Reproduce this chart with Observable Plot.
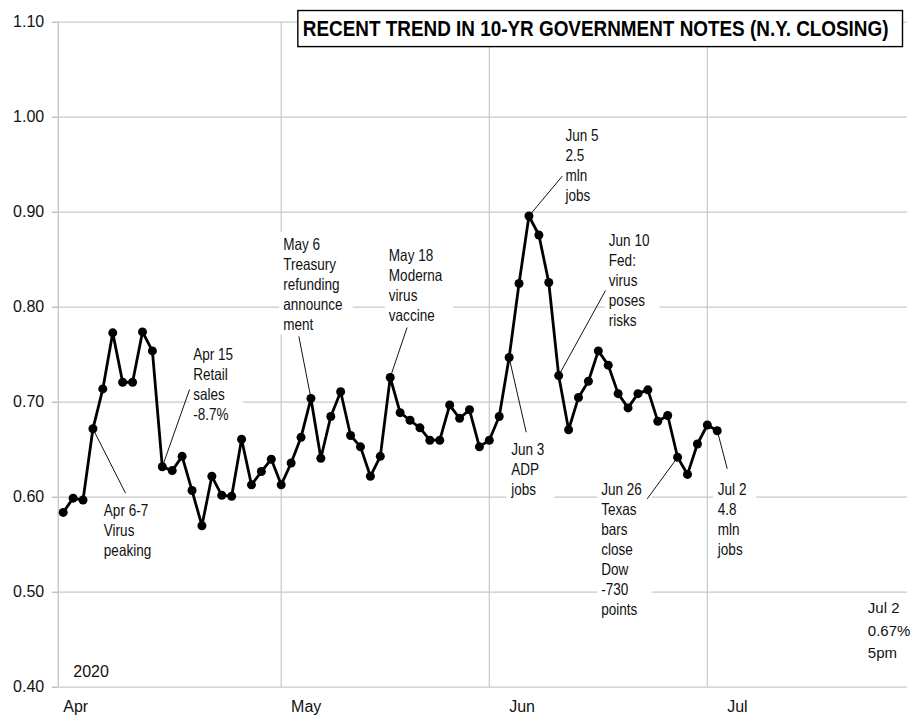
<!DOCTYPE html>
<html>
<head>
<meta charset="utf-8">
<script src="https://cdn.jsdelivr.net/npm/d3@7"></script>
<script src="https://cdn.jsdelivr.net/npm/@observablehq/plot@0.6"></script>
<style>
  html, body { margin: 0; padding: 0; background: #fff; }
  #chart { width: 919px; height: 715px; }
</style>
</head>
<body>
<div id="chart"></div>
<script>
// ---------- data ----------
const days = [
  "Apr 1","Apr 2","Apr 3","Apr 6","Apr 7","Apr 8","Apr 9","Apr 10","Apr 13","Apr 14","Apr 15",
  "Apr 16","Apr 17","Apr 20","Apr 21","Apr 22","Apr 23","Apr 24","Apr 27","Apr 28","Apr 29","Apr 30",
  "May 1","May 4","May 5","May 6","May 7","May 8","May 11","May 12","May 13","May 14","May 15",
  "May 18","May 19","May 20","May 21","May 22","May 25","May 26","May 27","May 28","May 29",
  "Jun 1","Jun 2","Jun 3","Jun 4","Jun 5","Jun 8","Jun 9","Jun 10","Jun 11","Jun 12","Jun 15",
  "Jun 16","Jun 17","Jun 18","Jun 19","Jun 22","Jun 23","Jun 24","Jun 25","Jun 26","Jun 29","Jun 30",
  "Jul 1","Jul 2"
];
const yields = [
  0.584, 0.599, 0.597, 0.672, 0.714, 0.773, 0.721, 0.721, 0.774, 0.754, 0.632,
  0.628, 0.643, 0.607, 0.570, 0.622, 0.602, 0.601, 0.661, 0.613, 0.627, 0.640,
  0.613, 0.636, 0.663, 0.704, 0.641, 0.685, 0.711, 0.665, 0.653, 0.622, 0.643,
  0.726, 0.689, 0.681, 0.673, 0.660, 0.660, 0.697, 0.683, 0.692, 0.653,
  0.660, 0.685, 0.747, 0.825, 0.896, 0.876, 0.826, 0.728, 0.671, 0.705, 0.722,
  0.754, 0.739, 0.709, 0.694, 0.709, 0.713, 0.680, 0.686, 0.642, 0.624, 0.656,
  0.676, 0.670
];
const months = ["Apr", "May", "Jun", "Jul"];
const monthStarts = ["Apr 1", "May 1", "Jun 1", "Jul 1"];
const monthLabelAt = [0, 23, 45, 67];           // trading-day slot where each month label starts
const yTicks = [0.40, 0.50, 0.60, 0.70, 0.80, 0.90, 1.00, 1.10];
const xDomain = [-0.5, 85.2];                    // trading-day slots shown
const yDomain = [0.40, 1.10];

const titleText = "RECENT TREND IN 10-YR GOVERNMENT NOTES (N.Y. CLOSING)";
const yearText = "2020";
const closeText = "Jul 2\n0.67%\n5pm";

const noteDays = ["Apr 6", "Apr 15", "May 6", "May 18", "Jun 5", "Jun 3", "Jun 10", "Jun 26", "Jul 2"];
const noteTexts = [
  "Apr 6-7\nVirus\npeaking",
  "Apr 15\nRetail\nsales\n-8.7%",
  "May 6\nTreasury\nrefunding\nannounce\nment",
  "May 18\nModerna\nvirus\nvaccine",
  "Jun 5\n2.5\nmln\njobs",
  "Jun 3\nADP\njobs",
  "Jun 10\nFed:\nvirus\nposes\nrisks",
  "Jun 26\nTexas\nbars\nclose\nDow\n-730\npoints",
  "Jul 2\n4.8\nmln\njobs"
];
// label anchor (slot, yield) and leader-line end (slot, yield), in data units
const noteTextAt = [[4.10, 0.5947], [13.12, 0.7597], [22.20, 0.8755], [32.86, 0.8632], [50.69, 0.9895],
                    [45.21, 0.6597], [55.06, 0.8789], [54.29, 0.6176], [66.06, 0.6176]];
const noteLeaderEnd = [[6.29, 0.6042], [12.75, 0.7134], [23.78, 0.7692], [34.70, 0.7786], [50.36, 0.9379],
                       [46.72, 0.6684], [54.73, 0.8176], [58.94, 0.5983], [67.01, 0.6299]];

// ---------- tables ----------
const series = days.map((d, i) => ({i, day: d, v: yields[i]}));
const monthTable = months.map((m, k) => ({m, start: days.indexOf(monthStarts[k]), labelAt: monthLabelAt[k]}));
const notes = noteDays.map((d, k) => {
  const i = days.indexOf(d);
  return {text: noteTexts[k], px: i, pv: yields[i],
          tx: noteTextAt[k][0], ty: noteTextAt[k][1],
          ex: noteLeaderEnd[k][0], ey: noteLeaderEnd[k][1]};
});

// ---------- fonts ----------
function textWidth(font) {
  const ctx = document.createElement("canvas").getContext("2d");
  ctx.font = font;
  return ctx.measureText("RECENT TREND abcdefghij 0123456789").width;
}
const hasNarrow = textWidth(`40px "Liberation Sans Narrow", monospace`) < 0.9 * textWidth(`40px "Liberation Sans", monospace`);
const narrowFamily = hasNarrow ? "'Liberation Sans Narrow', sans-serif" : "'Liberation Sans', Arial, sans-serif";
const regularFamily = "'Liberation Sans', Arial, sans-serif";

const gridColor = "#c8c8c8";

const chart = Plot.plot({
  width: 919,
  height: 715,
  marginLeft: 57.75,
  marginRight: 12,
  marginTop: 21.7,
  marginBottom: 28.3,
  style: {fontFamily: regularFamily, fontSize: "16px", color: "#111", background: "#fff"},
  x: {type: "linear", domain: xDomain, axis: null},
  y: {domain: yDomain, axis: null},
  marks: [
    Plot.ruleY(yTicks, {stroke: gridColor, strokeWidth: 1.2}),
    Plot.ruleX(monthTable.filter(d => d.start > 0), {x: "start", stroke: gridColor, strokeWidth: 1.2}),
    Plot.ruleX([xDomain[0]], {stroke: gridColor, strokeWidth: 1.4}),
    Plot.axisY({ticks: yTicks, tickFormat: d => d.toFixed(2), tickSize: 6, tickPadding: 8,
                fontSize: 16, stroke: "#a8a8a8", fill: "#111", label: null}),
    // text mark #0: month labels
    Plot.text(monthTable, {x: "labelAt", y: () => yDomain[0], text: "m", textAnchor: "start",
                           lineAnchor: "top", dy: 13.3, fontSize: 16, fill: "#111"}),
    // text mark #1: year
    Plot.text([yearText], {frameAnchor: "bottom-left", dx: 15, dy: -22, textAnchor: "start",
                           lineAnchor: "top", fontSize: 16, fill: "#111"}),
    // text mark #2: closing note
    Plot.text([closeText], {frameAnchor: "bottom-right", dx: -39.7, dy: -90, textAnchor: "start",
                            lineAnchor: "top", fontSize: 15, lineHeight: 1.5, fill: "#111"}),
    // text mark #3: annotations
    Plot.text(notes, {x: "tx", y: "ty", text: "text", textAnchor: "start", lineAnchor: "top",
                      fontSize: 16.5, lineHeight: 20 / 16.5, fontFamily: narrowFamily, fill: "#111"}),
    Plot.link(notes, {x1: "px", y1: "pv", x2: "ex", y2: "ey", stroke: "#111", strokeWidth: 1}),
    Plot.line(series, {x: "i", y: "v", stroke: "#000", strokeWidth: 2.8, strokeLinejoin: "round"}),
    Plot.dot(series, {x: "i", y: "v", r: 4.5, fill: "#000", stroke: "none"}),
    // text mark #4: title
    Plot.text([titleText], {frameAnchor: "top-right", dx: -19, dy: -2.7, textAnchor: "end",
                            lineAnchor: "top", fontSize: hasNarrow ? 23 : 18.9, fontWeight: "bold",
                            fontFamily: narrowFamily, fill: "#000"})
  ]
});

document.getElementById("chart").append(chart);

// ---------- post-processing: narrow fallback & text boxes ----------
const NS = "http://www.w3.org/2000/svg";
const textGroups = Array.from(chart.querySelectorAll(":scope > g")).filter(g => g.querySelector(":scope > text") && g.getAttribute("aria-label") === "text");
const [gMonths, gYear, gClose, gNotes, gTitle] = textGroups;

function compress(textEl, f) {
  const parts = textEl.querySelectorAll("tspan");
  const items = parts.length ? Array.from(parts) : [textEl];
  for (const t of items) {
    const w = t.getComputedTextLength();
    t.setAttribute("textLength", (w * f).toFixed(2));
    t.setAttribute("lengthAdjust", "spacingAndGlyphs");
  }
}
if (!hasNarrow) {
  if (gNotes) gNotes.querySelectorAll("text").forEach(t => compress(t, 0.82));
  // title: regular bold at a width-matched size, stretched vertically to the narrow face's height
  if (gTitle) gTitle.querySelectorAll("text").forEach(t => {
    const tr = t.getAttribute("transform") || "";
    t.setAttribute("transform", tr + " scale(1,1.21)");
  });
}
function boxesBehind(g, pad, attrs) {
  if (!g) return;
  const sr = chart.getBoundingClientRect();
  const bg = document.createElementNS(NS, "g");
  for (const t of g.querySelectorAll("text")) {
    const r = t.getBoundingClientRect();
    const rect = document.createElementNS(NS, "rect");
    rect.setAttribute("x", r.left - sr.left - pad[3]);
    rect.setAttribute("y", r.top - sr.top - pad[0]);
    rect.setAttribute("width", r.width + pad[1] + pad[3]);
    rect.setAttribute("height", r.height + pad[0] + pad[2]);
    for (const [k, v] of Object.entries(attrs)) rect.setAttribute(k, v);
    bg.append(rect);
  }
  g.parentNode.insertBefore(bg, g);
}
boxesBehind(gNotes, [3, 10, 2, 4], {fill: "#fff"});
boxesBehind(gClose, [2, 6, 2, 4], {fill: "#fff"});
boxesBehind(gTitle, [4.5, 14, 6.5, 5], {fill: "#fff", stroke: "#000", "stroke-width": 1.4});
</script>
</body>
</html>
